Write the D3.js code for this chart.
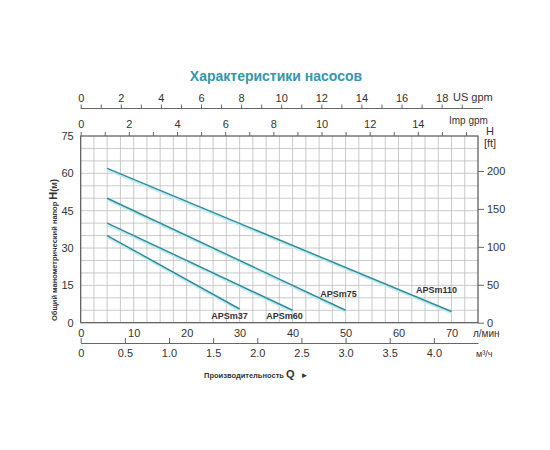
<!DOCTYPE html>
<html>
<head>
<meta charset="utf-8">
<script src="https://cdn.jsdelivr.net/npm/d3@7"></script>
<style>
body { margin: 0; background: #fff; }
svg text { font-family: Arial, "Liberation Sans", sans-serif; fill: #333; }
</style>
</head>
<body>
<svg id="chart" width="550" height="450"></svg>
<script>
// pump curves: flow in l/min, head in m
const models = ["APSm37", "APSm60", "APSm75", "APSm110"];
const flowStart = [5, 5, 5, 5];
const flowEnd = [30, 40, 50, 70];
const headStart = [35, 40, 50, 62];
const headEnd = [5.5, 5, 5, 4.5];

const flowTicks = [0, 10, 20, 30, 40, 50, 60, 70];
const headTicks = [0, 15, 30, 45, 60, 75];
const ftTicks = [0, 50, 100, 150, 200];
const m3Ticks = [0, 0.5, 1.0, 1.5, 2.0, 2.5, 3.0, 3.5, 4.0];
const usTicks = d3.range(0, 20);
const impTicks = d3.range(0, 17);

const svg = d3.select("#chart");
const plotLeft = 80.7, plotRight = 478, plotTop = 136, plotBottom = 322.7;

let x = d3.scaleLinear().domain([0, 75]).range([plotLeft, plotRight]);
let y = d3.scaleLinear().domain([0, 75]).range([plotBottom, plotTop]);
let yFt = d3.scaleLinear().domain([0, 75 * 3.2808]).range([plotBottom, plotTop]);
let xUS = d3.scaleLinear().domain([0, 75 / 3.7854]).range([plotLeft, plotRight]);
let xImp = d3.scaleLinear().domain([0, 75 / 4.5461]).range([plotLeft, plotRight]);
let xM3 = d3.scaleLinear().domain([0, 4.5]).range([plotLeft, plotRight]);

// title
svg.append("text")
    .attr("x", 276).attr("y", 81)
    .attr("text-anchor", "middle")
    .style("font-size", "14px").style("font-weight", "bold")
    .style("fill", "#3596b0")
    .text("Характеристики насосов");

// grid
const grid = svg.append("g").attr("stroke", "#bdbdbd").attr("stroke-width", 0.8);
grid.selectAll(".vg").data(d3.range(2.5, 75, 2.5)).enter()
    .append("line")
    .attr("x1", d => x(d)).attr("x2", d => x(d))
    .attr("y1", plotTop).attr("y2", plotBottom);
grid.selectAll(".hg").data(d3.range(5, 75, 5)).enter()
    .append("line")
    .attr("y1", d => y(d)).attr("y2", d => y(d))
    .attr("x1", plotLeft).attr("x2", plotRight);

// frame
svg.append("rect")
    .attr("x", plotLeft).attr("y", plotTop)
    .attr("width", plotRight - plotLeft).attr("height", plotBottom - plotTop)
    .attr("fill", "none").attr("stroke", "#555").attr("stroke-width", 1.2);

function styleAxis(g) {
    g.selectAll("path, line").attr("stroke", "#666");
    g.selectAll("text").style("font-size", "11px").style("font-family", "Arial, 'Liberation Sans', sans-serif").attr("fill", "#333");
}

// left head axis (m)
svg.append("g")
    .attr("transform", `translate(${plotLeft},0)`)
    .call(d3.axisLeft(y).tickValues(headTicks).tickSize(0).tickPadding(7))
    .call(g => g.select(".domain").remove())
    .call(styleAxis);

// right head axis (ft)
svg.append("g")
    .attr("transform", `translate(${plotRight},0)`)
    .call(d3.axisRight(yFt).tickValues(ftTicks).tickSize(6).tickPadding(3))
    .call(g => g.select(".domain").remove())
    .call(styleAxis);

// bottom flow axis (l/min)
svg.append("g")
    .attr("transform", `translate(0,${plotBottom})`)
    .call(d3.axisBottom(x).tickValues(flowTicks).tickSize(0).tickPadding(7))
    .call(g => g.select(".domain").remove())
    .call(styleAxis);

// m3/h axis
svg.append("g")
    .attr("transform", "translate(0,343)")
    .call(d3.axisTop(xM3).tickValues(m3Ticks).tickSize(5).tickSizeOuter(0)
        .tickFormat(d => d === 0 ? "0" : d3.format(".1f")(d)))
    .call(g => g.selectAll(".tick text").attr("y", 6).attr("dy", "0.71em"))
    .call(styleAxis);

// US gpm axis
svg.append("g")
    .attr("transform", "translate(0,108.5)")
    .call(d3.axisTop(xUS).tickValues(usTicks).tickSize(4).tickSizeOuter(0)
        .tickFormat(d => d % 2 === 0 ? d : ""))
    .call(g => g.select(".domain").attr("d", `M${plotLeft},0H483`))
    .call(styleAxis);

// Imp gpm axis
svg.append("g")
    .attr("transform", `translate(0,${plotTop})`)
    .call(d3.axisTop(xImp).tickValues(impTicks).tickSize(4).tickSizeOuter(0)
        .tickFormat(d => d % 2 === 0 && d < 16 ? d : "").tickPadding(4))
    .call(g => g.select(".domain").remove())
    .call(styleAxis);

// unit labels
svg.append("text").attr("x", 453).attr("y", 101).style("font-size", "11px").text("US gpm");
svg.append("text").attr("x", 449).attr("y", 124).style("font-size", "10px").text("Imp gpm");
svg.append("text").attr("x", 490).attr("y", 135).attr("text-anchor", "middle").style("font-size", "11px").text("H");
svg.append("text").attr("x", 490).attr("y", 147).attr("text-anchor", "middle").style("font-size", "11px").text("[ft]");
svg.append("text").attr("x", 473).attr("y", 337).style("font-size", "10px").text("л/мин");
svg.append("text").attr("x", 476).attr("y", 357).style("font-size", "9px").text("м³/ч");

// axis titles
svg.append("text")
    .attr("transform", "translate(57,250) rotate(-90)")
    .attr("text-anchor", "middle")
    .style("font-size", "7.5px").style("font-weight", "bold")
    .call(t => {
        t.append("tspan").text("Общий манометрический напор ");
        t.append("tspan").style("font-size", "11px").text("H");
        t.append("tspan").style("font-size", "9px").text("(м)");
    });

svg.append("text")
    .attr("x", 204).attr("y", 378)
    .style("font-size", "7.5px").style("font-weight", "bold")
    .call(t => {
        t.append("tspan").text("Производительность ");
        t.append("tspan").style("font-size", "11px").text("Q");
        t.append("tspan").attr("dx", 6).style("font-size", "8px").text("►");
    });

// curves
const curves = models.map((m, i) => ({
    name: m,
    pts: [[flowStart[i], headStart[i]], [flowEnd[i], headEnd[i]]]
}));
const line = d3.line().x(d => x(d[0])).y(d => y(d[1]));

svg.selectAll(".shadow").data(curves).enter()
    .append("path")
    .attr("d", d => line(d.pts))
    .attr("transform", "translate(0,1.6)")
    .attr("fill", "none").attr("stroke", "#c6eaf0").attr("stroke-width", 2);

svg.selectAll(".curve").data(curves).enter()
    .append("path")
    .attr("d", d => line(d.pts))
    .attr("fill", "none").attr("stroke", "#2e8e9c").attr("stroke-width", 1.5);

// curve labels: below the end for the two small pumps, above for the others
const labelDx = [-10, -8, -7, -15];
const labelDy = [10, 9, -13, -18];
svg.selectAll(".lab").data(curves).enter()
    .append("text")
    .attr("x", (d, i) => x(flowEnd[i]) + labelDx[i])
    .attr("y", (d, i) => y(headEnd[i]) + labelDy[i])
    .attr("text-anchor", "middle")
    .style("font-size", "9px").style("font-weight", "bold")
    .text(d => d.name);
</script>
</body>
</html>
